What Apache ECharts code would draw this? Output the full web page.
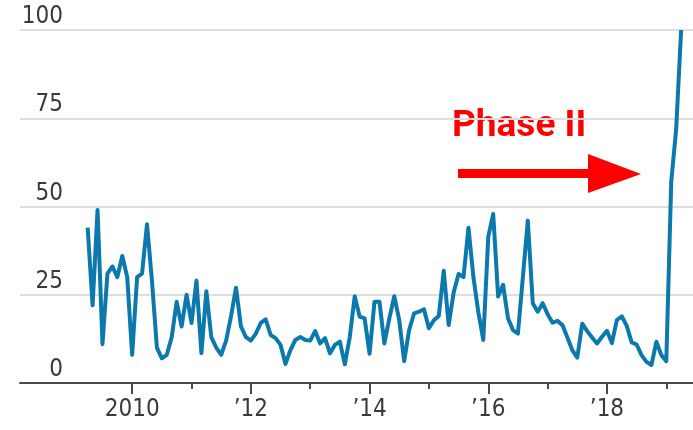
<!DOCTYPE html>
<html>
<head>
<meta charset="utf-8">
<script src="https://cdn.jsdelivr.net/npm/echarts@6/dist/echarts.min.js"></script>
<style>
  html, body { margin: 0; padding: 0; background: #fff; }
  #chart { width: 693px; height: 430px; }
</style>
</head>
<body>
<div id="chart"></div>
<script>
// first month of the series (monthly data)
const startYear = 2009
const startMonth = 4

// index values, one per month
const values = [
  44, 22, 49, 11, 31, 33, 30, 36, 30, 8,
  30, 31, 45, 29, 10, 7, 8, 13, 23, 16,
  25, 17, 29, 8.5, 26, 13, 10, 8, 12, 19,
  27, 16, 13, 12, 14, 17, 18, 13.6, 12.7, 10.8,
  5.4, 9.3, 12.2, 13, 12.2, 12, 14.7, 11.2, 12.7, 8.4,
  10.8, 11.7, 5.3, 13, 24.6, 18.8, 18.3, 8.3, 23, 23,
  11.2, 18.3, 24.6, 17.8, 6.2, 15, 19.7, 20.2, 20.9, 15.5,
  17.8, 19, 31.8, 16.4, 25.6, 30.9, 30, 44, 30, 20,
  12.2, 41.4, 47.9, 24.5, 27.8, 18.3, 15, 14, 30, 46,
  22.6, 20.2, 22.6, 19.5, 17.1, 17.6, 16.4, 12.9, 9.3, 7.2,
  16.8, 14.7, 12.9, 11.2, 13.1, 14.8, 11.3, 17.8, 18.9, 16.2,
  11.5, 10.9, 7.9, 6, 5.1, 11.7, 7.9, 6.2, 57, 72,
  100
]

// axis ticks
const yTicks = [0, 25, 50, 75, 100]
const xLabelYears = [2010, 2012, 2014, 2016, 2018]
const xMinorYears = [2011, 2013, 2015, 2017, 2019]

const lineColor = '#0c79ad'
const textColor = '#3a3a3a'
const numFont = "'Liberation Sans Narrow', 'DejaVu Sans Condensed', sans-serif"

// month index -> decimal year
const seriesData = values.map((v, i) => {
  const m = startMonth - 1 + i
  return [startYear + m / 12, v]
})

const chart = echarts.init(document.getElementById('chart'))

const option = {
  animation: false,
  grid: { left: 20, right: 0, top: 30, bottom: 47 },
  xAxis: [
    {
      type: 'value',
      min: 2008.11,
      max: 2019.45,
      axisLine: { show: true, lineStyle: { color: '#4a4a4a', width: 2 } },
      axisTick: {
        show: true,
        customValues: xLabelYears,
        length: 11,
        lineStyle: { color: '#4a4a4a', width: 2 }
      },
      axisLabel: {
        customValues: xLabelYears,
        formatter: v => (v === 2010 ? '2010' : '\u2019' + String(v).slice(2)),
        color: textColor,
        fontFamily: numFont,
        fontSize: 24,
        margin: 15
      },
      splitLine: { show: false }
    },
    {
      type: 'value',
      min: 2008.11,
      max: 2019.45,
      position: 'bottom',
      axisLine: { show: false },
      axisTick: {
        show: true,
        customValues: xMinorYears,
        length: 6,
        lineStyle: { color: '#4a4a4a', width: 2 }
      },
      axisLabel: { show: false },
      splitLine: { show: false }
    }
  ],
  yAxis: {
    type: 'value',
    min: 0,
    max: 100,
    interval: 25,
    axisLine: { show: false },
    axisTick: { show: false },
    splitLine: { lineStyle: { color: '#dedede', width: 2 } },
    axisLabel: {
      inside: true,
      margin: 43,
      align: 'right',
      verticalAlign: 'bottom',
      padding: [0, 0, 1, 0],
      color: textColor,
      fontFamily: numFont,
      fontSize: 24,
      customValues: yTicks
    }
  },
  series: [
    {
      type: 'line',
      data: seriesData,
      symbol: 'none',
      lineStyle: { color: lineColor, width: 4, join: 'round' },
      z: 5
    }
  ],
  graphic: [
    {
      type: 'text',
      left: 452,
      top: 108,
      style: {
        text: 'Phase II',
        fill: '#ff0000',
        font: "bold 37px Roboto, 'Liberation Sans', sans-serif"
      }
    },
    {
      type: 'rect',
      shape: { x: 458, y: 169, width: 134, height: 9 },
      style: { fill: '#ff0000' }
    },
    {
      type: 'polygon',
      shape: { points: [[588, 154], [641, 174], [588, 193]] },
      style: { fill: '#ff0000' }
    }
  ]
}

chart.setOption(option)
</script>
</body>
</html>
